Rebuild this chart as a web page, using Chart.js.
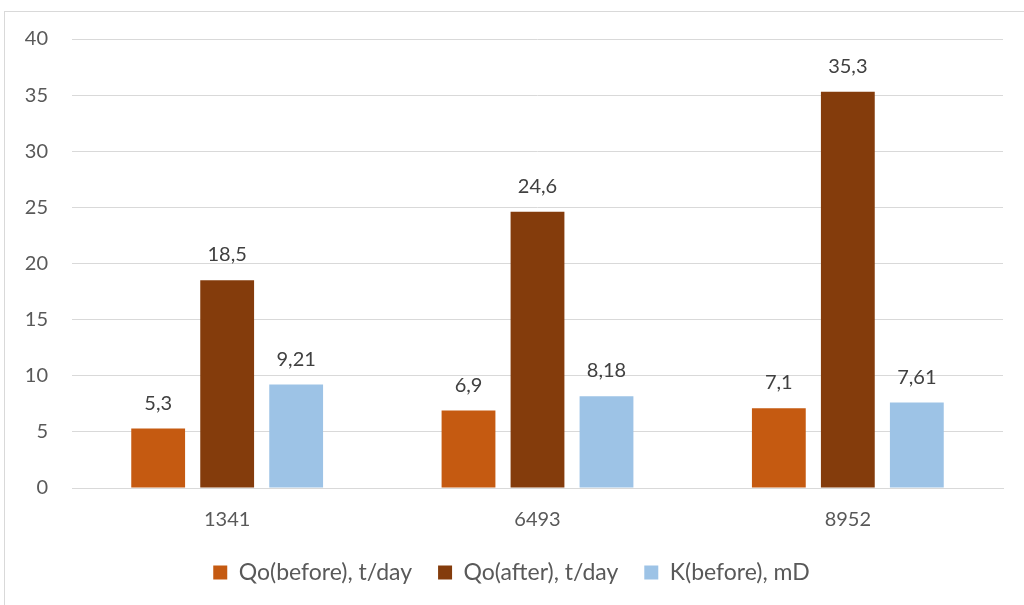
<!DOCTYPE html>
<html>
<head>
<meta charset="utf-8">
<script src="https://cdn.jsdelivr.net/npm/chart.js@4/dist/chart.umd.min.js"></script>
<style>
  html, body { margin: 0; padding: 0; background: #fff; overflow: hidden; }
  #wrap { position: relative; width: 1024px; height: 605px; }
  #frame { position: absolute; left: 4px; top: 11px; width: 1030px; height: 610px; border: 1px solid #d9d9d9; box-sizing: border-box; }
  canvas { position: absolute; left: 0; top: 0; }
</style>
</head>
<body>
<div id="wrap">
  <div id="frame"></div>
  <canvas id="chart" width="1024" height="605"></canvas>
</div>
<script>
const wells = ["1341", "6493", "8952"];
const qoBefore = [5.3, 6.9, 7.1];
const qoAfter = [18.5, 24.6, 35.3];
const kBefore = [9.21, 8.18, 7.61];

const fontFamily = "Lato, 'Open Sans', sans-serif";

// draws the value above each bar, with a decimal comma
const barLabels = {
  id: "barLabels",
  afterDatasetsDraw(chart) {
    const ctx = chart.ctx;
    ctx.save();
    ctx.fillStyle = "#404040";
    ctx.font = "20px " + fontFamily;
    ctx.textAlign = "center";
    ctx.textBaseline = "alphabetic";
    chart.data.datasets.forEach((ds, i) => {
      chart.getDatasetMeta(i).data.forEach((bar, j) => {
        const txt = String(ds.data[j]).replace(".", ",");
        ctx.fillText(txt, bar.x, bar.y - 19);
      });
    });
    ctx.restore();
  },
};

new Chart(document.getElementById("chart").getContext("2d"), {
  type: "bar",
  data: {
    labels: wells,
    datasets: [
      { label: "Qo(before), t/day", data: qoBefore, backgroundColor: "#c55a11" },
      { label: "Qo(after), t/day", data: qoAfter, backgroundColor: "#843c0c" },
      { label: "K(before), mD", data: kBefore, backgroundColor: "#9dc3e6" },
    ],
  },
  options: {
    responsive: false,
    animation: false,
    layout: { padding: { left: 20, right: 21, top: 39, bottom: 11 } },
    datasets: {
      bar: { categoryPercentage: 0.667, barPercentage: 0.78 },
    },
    scales: {
      x: {
        grid: { display: false, drawTicks: false },
        border: { display: true, color: "#d9d9d9", width: 1 },
        ticks: { color: "#595959", font: { size: 20, family: fontFamily }, padding: 20 },
        afterFit: (scale) => { scale.height = 47; },
      },
      y: {
        min: 0,
        max: 40,
        ticks: { stepSize: 5, color: "#595959", font: { size: 20, family: fontFamily }, padding: 24 },
        grid: { color: "#d9d9d9", lineWidth: 1, drawTicks: false },
        border: { display: false },
        afterFit: (scale) => { scale.width = 52; },
      },
    },
    plugins: {
      legend: {
        position: "bottom",
        labels: {
          color: "#595959",
          font: { size: 23, family: fontFamily },
          boxWidth: 14,
          boxHeight: 14,
          padding: 26,
        },
      },
      tooltip: { enabled: false },
    },
  },
  plugins: [barLabels],
});
</script>
</body>
</html>
